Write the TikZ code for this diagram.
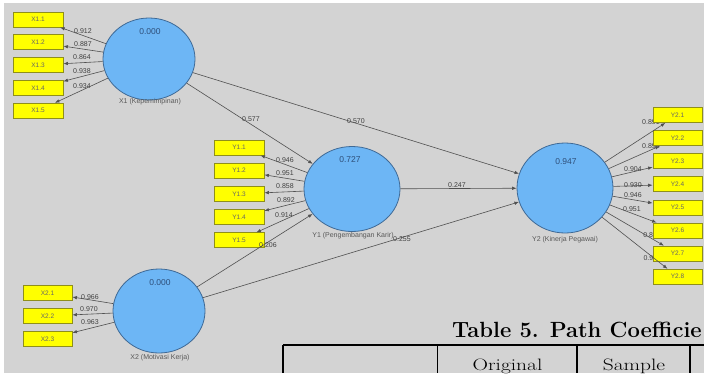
\documentclass[tikz,border=0pt]{standalone}
\usepackage{graphicx}
\usepackage{fontspec}
\newfontfamily\plsfont{Liberation Sans}
\usepackage{tikz}
\usetikzlibrary{shapes.geometric,arrows.meta,calc}
\definecolor{canvas}{HTML}{D3D3D3}
\definecolor{lvfill}{HTML}{6DB6F5}
\definecolor{lvdraw}{HTML}{3F6A96}
\definecolor{mvfill}{HTML}{FFFF00}
\definecolor{mvdraw}{HTML}{8F8F1A}
\definecolor{pathline}{HTML}{505050}
\definecolor{lvtext}{HTML}{2E4F7A}
\pgfdeclarelayer{back}
\pgfsetlayers{back,main}
\tikzset{
  latent/.style={ellipse, draw=lvdraw, fill=lvfill, line width=0.8pt, inner sep=0pt},
  ind/.style={rectangle, draw=mvdraw, fill=mvfill, line width=0.8pt, minimum width=50pt, minimum height=15pt, inner sep=0pt, text=black!60, font=\plsfont\fontsize{6.5}{7}\selectfont},
  link/.style={draw=pathline, line width=0.6pt, -{Latex[length=4.5pt,width=3.5pt]}},
  coef/.style={text=black!75, inner sep=0pt, font=\plsfont\fontsize{7}{8}\selectfont},
  rsq/.style={text=lvtext, inner sep=0pt, font=\plsfont\fontsize{8.5}{9}\selectfont},
  lvname/.style={text=black!65, inner sep=0pt, font=\plsfont\fontsize{7}{8}\selectfont},
  tabrule/.style={draw=black, line width=1.2pt}
}
\begin{document}
\begin{tikzpicture}[x=1pt,y=-1pt]
  \useasboundingbox (0,0) rectangle (704,373);
  \begin{pgfonlayer}{back}
    \fill[white] (0,0) rectangle (704,373);
    \fill[canvas] (4,3) rectangle (704,373);
  \end{pgfonlayer}

  % latent variables
  \node[latent, minimum width=92pt, minimum height=82pt] (X1) at (149,59) {};
  \node[latent, minimum width=96pt, minimum height=85pt] (Y1) at (352,189) {};
  \node[latent, minimum width=96pt, minimum height=90pt] (Y2) at (565,188) {};
  \node[latent, minimum width=92pt, minimum height=84pt] (X2) at (159,311) {};
  \node[rsq] (X1r) at (150,32) {0.000};
  \node[rsq] (Y1r) at (350,160) {0.727};
  \node[rsq] (Y2r) at (566,162) {0.947};
  \node[rsq] (X2r) at (160,283) {0.000};
  \node[lvname] (X1n) at (150,102) {X1 (Kepemimpinan)};
  \node[lvname] (Y1n) at (353,236) {Y1 (Pengembangan Karir)};
  \node[lvname] (Y2n) at (565,240) {Y2 (Kinerja Pegawai)};
  \node[lvname] (X2n) at (160,358) {X2 (Motivasi Kerja)};

  % indicators
  \node[ind] (x11) at (38,19.5) {X1.1};
  \node[ind] (x12) at (38,42.3) {X1.2};
  \node[ind] (x13) at (38,65.1) {X1.3};
  \node[ind] (x14) at (38,87.9) {X1.4};
  \node[ind] (x15) at (38,110.7) {X1.5};
  \node[ind] (y11) at (239,147.5) {Y1.1};
  \node[ind] (y12) at (239,170.7) {Y1.2};
  \node[ind] (y13) at (239,193.9) {Y1.3};
  \node[ind] (y14) at (239,217.1) {Y1.4};
  \node[ind] (y15) at (239,240.3) {Y1.5};
  \node[ind, minimum width=49pt] (y21) at (677.5,115) {Y2.1};
  \node[ind, minimum width=49pt] (y22) at (677.5,138.1) {Y2.2};
  \node[ind, minimum width=49pt] (y23) at (677.5,161.2) {Y2.3};
  \node[ind, minimum width=49pt] (y24) at (677.5,184.3) {Y2.4};
  \node[ind, minimum width=49pt] (y25) at (677.5,207.4) {Y2.5};
  \node[ind, minimum width=49pt] (y26) at (677.5,230.5) {Y2.6};
  \node[ind, minimum width=49pt] (y27) at (677.5,253.6) {Y2.7};
  \node[ind, minimum width=49pt] (y28) at (677.5,276.7) {Y2.8};
  \node[ind, minimum width=49pt] (x21) at (47.5,293) {X2.1};
  \node[ind, minimum width=49pt] (x22) at (47.5,316) {X2.2};
  \node[ind, minimum width=49pt] (x23) at (47.5,339) {X2.3};

  % outer loadings
  \draw[link] (X1) -- (x11);
  \draw[link] (X1) -- (x12);
  \draw[link] (X1) -- (x13);
  \draw[link] (X1) -- (x14);
  \draw[link] (X1) -- (x15);
  \draw[link] (Y1) -- (y11);
  \draw[link] (Y1) -- (y12);
  \draw[link] (Y1) -- (y13);
  \draw[link] (Y1) -- (y14);
  \draw[link] (Y1) -- (y15);
  \draw[link] (Y2) -- (y21);
  \draw[link] (Y2) -- (y22);
  \draw[link] (Y2) -- (y23);
  \draw[link] (Y2) -- (y24);
  \draw[link] (Y2) -- (y25);
  \draw[link] (Y2) -- (y26);
  \draw[link] (Y2) -- (y27);
  \draw[link] (Y2) -- (y28);
  \draw[link] (X2) -- (x21);
  \draw[link] (X2) -- (x22);
  \draw[link] (X2) -- (x23);

  % path coefficients
  \draw[link] (X1) -- (Y1);
  \draw[link] (X1) -- (Y2);
  \draw[link] (Y1) -- (Y2);
  \draw[link] (X2) -- (Y1);
  \draw[link] (X2) -- (Y2);
  \node[coef] (pX2Y1) at (268,245) {0.206};

  \begin{pgfonlayer}{back}
    \node[coef] (lx11) at (83,31) {0.912};
    \node[coef] (lx12) at (83,44) {0.887};
    \node[coef] (lx13) at (82,57) {0.864};
    \node[coef] (lx14) at (82,71) {0.938};
    \node[coef] (lx15) at (82,86) {0.934};
    \node[coef] (ly11) at (285,160) {0.946};
    \node[coef] (ly12) at (285,173) {0.951};
    \node[coef] (ly13) at (285,186) {0.858};
    \node[coef] (ly14) at (286,200) {0.892};
    \node[coef] (ly15) at (284,215) {0.914};
    \node[coef] (ly21) at (651,122) {0.891};
    \node[coef] (ly22) at (651,146) {0.898};
    \node[coef] (ly23) at (633,169) {0.904};
    \node[coef] (ly24) at (633,185) {0.930};
    \node[coef] (ly25) at (633,195) {0.946};
    \node[coef] (ly26) at (632,209) {0.951};
    \node[coef] (ly27) at (652,235) {0.892};
    \node[coef] (ly28) at (652,258) {0.911};
    \node[coef] (lx21) at (90,297) {0.966};
    \node[coef] (lx22) at (89,309) {0.970};
    \node[coef] (lx23) at (90,322) {0.963};
    \node[coef] (pX1Y1) at (251,119) {0.577};
    \node[coef] (pX1Y2) at (356,121) {0.570};
    \node[coef] (pY1Y2) at (457,185) {0.247};
    \node[coef] (pX2Y2) at (402,239) {0.255};
  \end{pgfonlayer}

  % table fragment
  \node[anchor=base west, inner sep=0pt, font=\fontsize{22}{24}\selectfont\bfseries] (tabtitle) at (452,337) {Table 5. Path Coefficie};
  \draw[tabrule] (283,345) -- (704,345);
  \draw[tabrule] (283,345) -- (283,373);
  \draw[tabrule] (437.5,345) -- (437.5,373);
  \draw[tabrule] (577,345) -- (577,373);
  \draw[tabrule] (690,345) -- (690,373);
  \node[anchor=base, inner sep=0pt, font=\fontsize{16.5}{19}\selectfont] (colorig) at (507.5,370.5) {\scalebox{1.3}[1]{Original}};
  \node[anchor=base, inner sep=0pt, font=\fontsize{16.5}{19}\selectfont] (colsamp) at (634,370.5) {\scalebox{1.3}[1]{Sample}};
\end{tikzpicture}
\end{document}
